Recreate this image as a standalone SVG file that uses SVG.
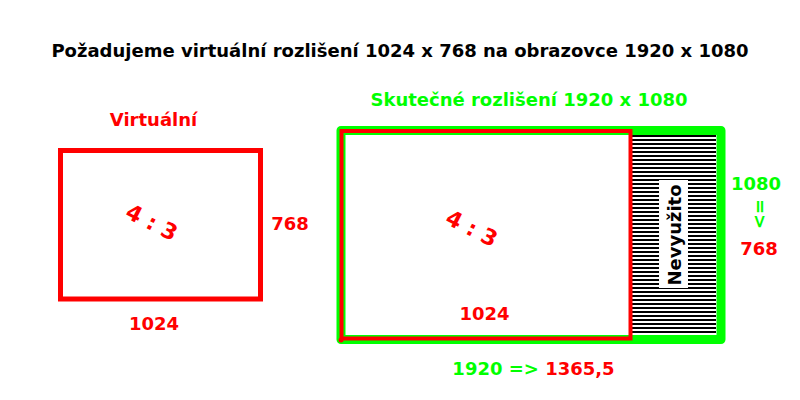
<svg xmlns="http://www.w3.org/2000/svg" width="800" height="400" viewBox="0 0 800 400">
  <style>
    text { font-family: "DejaVu Sans", Verdana, sans-serif; font-weight: bold; font-size: 18px; text-anchor: middle; }
    .red { fill: #ff0000; }
    .green { fill: #00ff00; }
    .black { fill: #000000; }
    .ratio { font-size: 22px; }
  </style>
  <defs>
    <pattern id="hatch" patternUnits="userSpaceOnUse" x="0" y="135" width="8" height="4">
      <rect x="0" y="0" width="8" height="2" fill="#000000"/>
      <rect x="0" y="2" width="8" height="2" fill="#ffffff"/>
    </pattern>
  </defs>
  <rect x="0" y="0" width="800" height="400" fill="#ffffff"/>

  <g id="title">
    <text class="black" x="400" y="57">Požadujeme virtuální rozlišení 1024 x 768 na obrazovce 1920 x 1080</text>
  </g>

  <g id="virtual">
    <text class="red" x="153.5" y="126">Virtuální</text>
    <rect x="60.5" y="150.5" width="200" height="148.5" fill="none" stroke="#ff0000" stroke-width="5"/>
    <text class="red ratio" transform="translate(152,222) rotate(27)" x="0" y="8">4 : 3</text>
    <text class="red" x="290" y="230">768</text>
    <text class="red" x="154" y="330">1024</text>
  </g>

  <g id="real">
    <text class="green" x="529" y="106">Skutečné rozlišení 1920 x 1080</text>
    <rect x="341" y="130.5" width="380" height="209" fill="#ffffff" stroke="#00ff00" stroke-width="9" stroke-linejoin="round"/>
    <rect x="632" y="135" width="84" height="200" fill="url(#hatch)"/>
    <rect x="659" y="180" width="29" height="108" fill="#ffffff"/>
    <text class="black" transform="translate(674,235) rotate(-90)" x="0" y="6.5">Nevyužito</text>
    <rect x="341.5" y="131" width="289" height="207.5" fill="none" stroke="#ff0000" stroke-width="4"/>
    <circle cx="341" cy="340" r="2.5" fill="#ff0000"/>
    <text class="red ratio" transform="translate(472,228) rotate(27)" x="0" y="8">4 : 3</text>
    <text class="red" x="484.5" y="320">1024</text>
  </g>

  <g id="labels">
    <text class="green" x="756" y="190">1080</text>
    <text class="green" transform="translate(760,214) rotate(90)" x="0" y="6">=&gt;</text>
    <text class="red" x="759" y="255">768</text>
    <text x="533.5" y="375"><tspan class="green">1920 =&gt; </tspan><tspan class="red">1365,5</tspan></text>
  </g>

  <g id="connectors"></g>
</svg>
